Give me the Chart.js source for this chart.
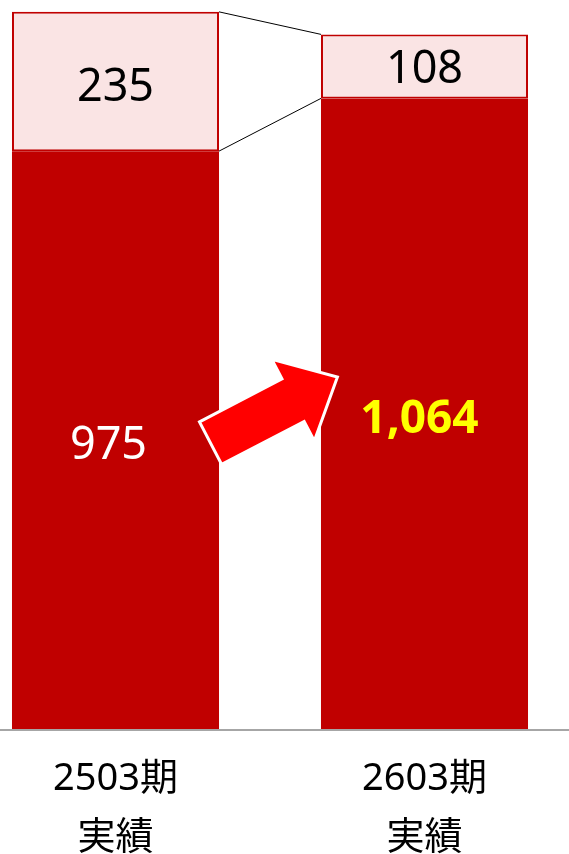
<!DOCTYPE html>
<html>
<head>
<meta charset="utf-8">
<script src="https://cdn.jsdelivr.net/npm/chart.js@4.4.1/dist/chart.umd.min.js"></script>
<style>
  html, body { margin: 0; padding: 0; background: #fff; overflow: hidden; }
  body { width: 569px; height: 854px; position: relative; }
  #wrap { position: absolute; left: -39px; top: 0; width: 618px; height: 854px; }
</style>
</head>
<body>
<div id="wrap"><canvas id="chart"></canvas></div>
<script>
// data
const periods = [['2503期', '実績'], ['2603期', '実績']];
const baseValues = [975, 1064];
const topValues = [235, 108];
const baseLabels = ['975', '1,064'];
const topLabels = ['235', '108'];

const FONT = '"Noto Sans", "Noto Sans CJK JP", sans-serif';
const DARK_RED = '#C00000';
const PINK = '#FAE4E4';

// 線・矢印・ラベルを描くプラグイン
const overlay = {
    id: 'overlay',
    afterDatasetsDraw(chart) {
        const ctx = chart.ctx;
        const low = chart.getDatasetMeta(0).data;
        const high = chart.getDatasetMeta(1).data;
        const y = chart.scales.y;

        // connector lines between the two bars
        const a = high[0].getProps(['x', 'y', 'base', 'width'], true);
        const b = high[1].getProps(['x', 'y', 'base', 'width'], true);
        ctx.save();
        ctx.strokeStyle = '#000';
        ctx.lineWidth = 1;
        ctx.beginPath();
        ctx.moveTo(a.x + a.width / 2, a.y);
        ctx.lineTo(b.x - b.width / 2, b.y);
        ctx.moveTo(a.x + a.width / 2, a.base);
        ctx.lineTo(b.x - b.width / 2, b.base);
        ctx.stroke();
        ctx.restore();

        // baseline
        ctx.save();
        ctx.strokeStyle = '#A6A6A6';
        ctx.lineWidth = 2;
        ctx.beginPath();
        ctx.moveTo(0, y.bottom + 1);
        ctx.lineTo(chart.width, y.bottom + 1);
        ctx.stroke();
        ctx.restore();

        // arrow
        const cx = (a.x + a.width / 2 + b.x - b.width / 2) / 2 + 4;
        const cy = y.getPixelForValue(538);
        const pts = [[-71.5, -24], [21.5, -24], [21.5, -46], [71.5, 0], [21.5, 46], [21.5, 24], [-71.5, 24]];
        ctx.save();
        ctx.translate(cx, cy);
        ctx.rotate(-27.5 * Math.PI / 180);
        ctx.beginPath();
        pts.forEach((p, i) => i ? ctx.lineTo(p[0], p[1]) : ctx.moveTo(p[0], p[1]));
        ctx.closePath();
        ctx.fillStyle = '#FF0000';
        ctx.fill();
        ctx.strokeStyle = '#fff';
        ctx.lineWidth = 3;
        ctx.lineJoin = 'miter';
        ctx.stroke();
        ctx.restore();

        // value labels
        ctx.save();
        ctx.textAlign = 'center';
        ctx.textBaseline = 'middle';
        low.forEach((bar, i) => {
            const p = bar.getProps(['x', 'y', 'base'], true);
            ctx.font = (i === 1 ? 'bold 46px ' : '45px ') + FONT;
            ctx.fillStyle = i === 1 ? '#FFFF00' : '#fff';
            const dx = i === 0 ? -7 : -5;
            ctx.fillText(baseLabels[i], p.x + dx, (p.y + p.base) / 2 + 6);
        });
        high.forEach((bar, i) => {
            const p = bar.getProps(['x', 'y', 'base'], true);
            ctx.font = '45px ' + FONT;
            ctx.fillStyle = '#000';
            ctx.fillText(topLabels[i], p.x, (p.y + p.base) / 2 + (i === 0 ? 7 : 4));
        });

        // category labels
        ctx.font = '38px ' + FONT;
        ctx.fillStyle = '#000';
        low.forEach((bar, i) => {
            const p = bar.getProps(['x'], true);
            ctx.fillText(periods[i][0], p.x, y.bottom + 50);
            ctx.fillText(periods[i][1], p.x, y.bottom + 109);
        });
        ctx.restore();
    }
};

new Chart(document.getElementById('chart'), {
    type: 'bar',
    data: {
        labels: periods.map(p => p.join(' ')),
        datasets: [
            {
                data: baseValues,
                backgroundColor: DARK_RED,
                borderWidth: 0
            },
            {
                data: topValues,
                backgroundColor: PINK,
                borderColor: DARK_RED,
                borderWidth: 2,
                borderSkipped: false
            }
        ]
    },
    options: {
        responsive: true,
        maintainAspectRatio: false,
        animation: false,
        datasets: { bar: { barPercentage: 0.67, categoryPercentage: 1 } },
        layout: { padding: { top: 0, bottom: 125, left: 0, right: 0 } },
        plugins: { legend: { display: false }, tooltip: { enabled: false } },
        scales: {
            x: { stacked: true, display: false },
            y: { stacked: true, display: false, min: 0, max: 1230 }
        }
    },
    plugins: [overlay]
});
</script>
</body>
</html>
